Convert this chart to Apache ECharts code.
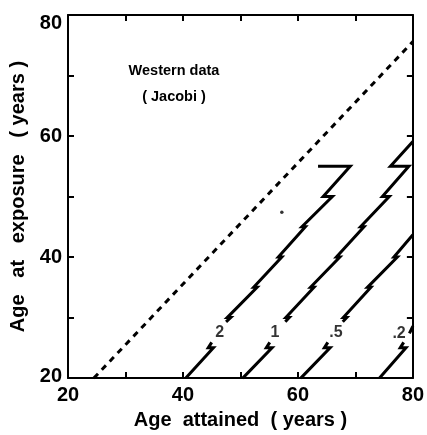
<!DOCTYPE html>
<html>
<head>
<meta charset="utf-8">
<script src="https://cdn.jsdelivr.net/npm/echarts@6/dist/echarts.min.js"></script>
<style>
html,body{margin:0;padding:0;background:#fff;}
#chart{width:427px;height:435px;}
</style>
</head>
<body>
<div id="chart"></div>
<script>
// ---- data ----
const xTickLabels = [20, 40, 60, 80];
const yTickLabels = [20, 40, 60, 80];
const xName = 'Age  attained  ( years )';
const yName = 'Age   at   exposure   ( years )';
const noteLines = ['Western data', '( Jacobi )'];

// dashed reference line
const diagonalLine = [[24.5, 20], [80, 75.6]];

// contour polylines: each contour is a list of segments of [age attained, age at exposure]
const contour2 = [
  [[40.5, 20], [45.3, 25], [44.4, 25], [45.0, 25.9]],
  [[47.5, 29.3], [48.3, 30], [47.7, 30], [52.9, 35], [52.3, 35], [57.2, 40], [56.6, 40],
   [61.3, 45], [60.7, 45], [66.0, 50], [64.4, 50], [69.1, 55], [63.5, 55]]
];
const contour1 = [
  [[50.4, 20], [55.5, 25], [54.5, 25], [55.1, 25.9]],
  [[57.8, 29.3], [58.5, 30], [57.9, 30], [62.8, 35], [62.2, 35], [67.3, 40], [66.7, 40],
   [71.5, 45], [70.9, 45], [75.9, 50], [74.7, 50], [79.3, 55], [76.1, 55], [80, 59.1]]
];
const contour05 = [
  [[60.5, 20], [65.6, 25], [64.6, 25], [65.2, 25.9]],
  [[67.8, 29.3], [68.5, 30], [67.9, 30], [72.7, 35], [72.1, 35], [77.3, 40], [76.7, 40], [80, 43.7]]
];
const contour02 = [
  [[74.2, 20], [78.8, 25], [77.8, 25], [78.4, 25.9]],
  [[79.4, 27.4], [80, 28.6]]
];
const contourLabels = [
  [46.4, 27.6, '2'],
  [56.0, 27.6, '1'],
  [66.6, 27.5, '.5'],
  [77.6, 27.3, '.2']
];
const strayDot = [[57.2, 47.4]];

// ---- chart ----
const FONT = '"Liberation Sans", Arial, Helvetica, sans-serif';
const chart = echarts.init(document.getElementById('chart'), null, {renderer: 'canvas'});

const allSegments = [].concat(contour2, contour1, contour05, contour02);

const series = [];
// dashed diagonal drawn as a custom polyline through the axes' scales
series.push({
  type: 'custom', silent: true, z: 3,
  data: [0],
  renderItem: function (params, api) {
    return {
      type: 'polyline',
      shape: {points: diagonalLine.map(function (p) { return api.coord(p); })},
      style: {stroke: '#000', lineWidth: 3, fill: null, lineDash: [6, 5.5], lineCap: 'butt'}
    };
  }
});
// contour segments
series.push({
  type: 'custom', silent: true, z: 3,
  data: allSegments.map(function (s, i) { return i; }),
  renderItem: function (params, api) {
    const seg = allSegments[params.dataIndex];
    return {
      type: 'polyline',
      shape: {points: seg.map(function (p) { return api.coord(p); })},
      style: {stroke: '#000', lineWidth: 3, fill: null, lineJoin: 'miter', miterLimit: 4, lineCap: 'butt'}
    };
  }
});
series.push({
  type: 'scatter',
  data: contourLabels.map(function (d) { return {value: [d[0], d[1]], name: d[2]}; }),
  symbolSize: 0,
  silent: true,
  label: {
    show: true, position: 'inside', formatter: '{b}',
    color: '#000', fontFamily: FONT, fontWeight: 'bold', fontSize: 16
  },
  z: 4
});
series.push({
  type: 'scatter', data: strayDot, symbol: 'circle', symbolSize: 3.5,
  itemStyle: {color: '#000'}, silent: true, z: 4
});

const axisLineStyle = {color: '#000', width: 2};
const tickStyle = {show: true, inside: true, length: 6, lineStyle: {color: '#000', width: 2}};

chart.setOption({
  animation: false,
  backgroundColor: '#fff',
  grid: {left: 68, right: 13, top: 15, bottom: 52, containLabel: false},
  xAxis: [
    {
      type: 'value', min: 20, max: 80, interval: 10, position: 'bottom',
      axisLine: {show: true, onZero: false, lineStyle: axisLineStyle},
      axisTick: tickStyle,
      splitLine: {show: false},
      axisLabel: {
        margin: 7, color: '#000', fontFamily: FONT, fontWeight: 'bold', fontSize: 20,
        formatter: function (v) { return xTickLabels.indexOf(v) >= 0 ? String(v) : ''; }
      },
      name: xName, nameLocation: 'middle', nameGap: 26,
      nameTextStyle: {color: '#000', fontFamily: FONT, fontWeight: 'bold', fontSize: 20}
    },
    {
      type: 'value', min: 20, max: 80, interval: 10, position: 'top',
      axisLine: {show: true, onZero: false, lineStyle: axisLineStyle},
      axisTick: tickStyle, axisLabel: {show: false}, splitLine: {show: false}
    }
  ],
  yAxis: [
    {
      type: 'value', min: 20, max: 80, interval: 10, position: 'left',
      axisLine: {show: true, onZero: false, lineStyle: axisLineStyle},
      axisTick: tickStyle,
      splitLine: {show: false},
      axisLabel: {
        margin: 6, color: '#000', fontFamily: FONT, fontWeight: 'bold', fontSize: 20,
        formatter: function (v) {
          if (yTickLabels.indexOf(v) < 0) return '';
          if (v === 80) return '{top|' + v + '}';
          if (v === 20) return '{bot|' + v + '}';
          return String(v);
        },
        rich: {
          top: {padding: [16, 0, 0, 0], fontFamily: FONT, fontWeight: 'bold', fontSize: 20, color: '#000'},
          bot: {padding: [0, 0, 4, 0], fontFamily: FONT, fontWeight: 'bold', fontSize: 20, color: '#000'}
        }
      },
      name: yName, nameLocation: 'middle', nameGap: 38,
      nameTextStyle: {color: '#000', fontFamily: FONT, fontWeight: 'bold', fontSize: 20}
    },
    {
      type: 'value', min: 20, max: 80, interval: 10, position: 'right',
      axisLine: {show: true, onZero: false, lineStyle: axisLineStyle},
      axisTick: tickStyle, axisLabel: {show: false}, splitLine: {show: false}
    }
  ],
  graphic: [
    {
      type: 'text', x: 174, y: 71, silent: true,
      style: {text: noteLines[0], fill: '#000', font: 'bold 14.5px ' + FONT, align: 'center', verticalAlign: 'middle'}
    },
    {
      type: 'text', x: 174, y: 97, silent: true,
      style: {text: noteLines[1], fill: '#000', font: 'bold 14.5px ' + FONT, align: 'center', verticalAlign: 'middle'}
    }
  ],
  series: series
});
</script>
</body>
</html>
